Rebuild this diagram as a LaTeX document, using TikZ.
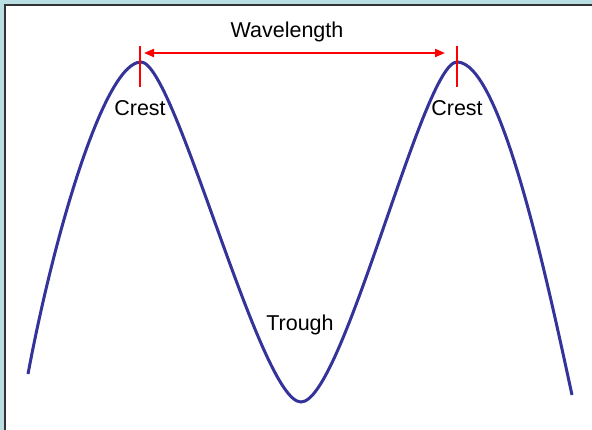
\documentclass[tikz,border=0pt]{standalone}
\usepackage{fontspec}
\setmainfont{Liberation Sans}
\usetikzlibrary{arrows.meta}
\definecolor{panelteal}{RGB}{185,223,227}
\definecolor{waveblue}{RGB}{51,51,153}

\begin{document}
\begin{tikzpicture}[x=1pt,y=-1pt, lbl/.style={font=\fontsize{21.5}{24}\selectfont}]
\useasboundingbox (0,0) rectangle (592,430);
\fill[panelteal] (0,0) rectangle (592,430);
\fill[white] (5,5) rectangle (592,430);
\draw[line width=1.5pt, black!80] (5,430) -- (5,5) -- (592,5);
% the wave
\coordinate (waveStart) at (28,374);
\coordinate (crestA) at (141,62);
\coordinate (trough) at (301,402);
\coordinate (crestB) at (457,62);
\coordinate (waveEnd) at (572,395);
\draw[waveblue, line width=3pt] (waveStart) .. controls (55,230) and (105,62) .. (crestA)
  .. controls (175,62) and (260,402) .. (trough)
  .. controls (343,402) and (423,62) .. (crestB)
  .. controls (500,62) and (545,270) .. (waveEnd);
% crest markers and wavelength
\coordinate (arrA) at (144,53);
\coordinate (arrB) at (445,53);
\draw[red, line width=2pt] (140,46) -- (140,87);
\draw[red, line width=2pt] (457,46) -- (457,87);
\draw[red, line width=2pt, {Triangle[length=10pt,width=8pt]}-{Triangle[length=10pt,width=8pt]}] (arrA) -- (arrB);
\node[lbl] (wavelen) at (287,32) {Wavelength};
\node[lbl] (crestlabA) at (140,108) {Crest};
\node[lbl] (crestlabB) at (457,108) {Crest};
\node[lbl] (troughlab) at (300,325) {Trough};
\end{tikzpicture}
\end{document}
